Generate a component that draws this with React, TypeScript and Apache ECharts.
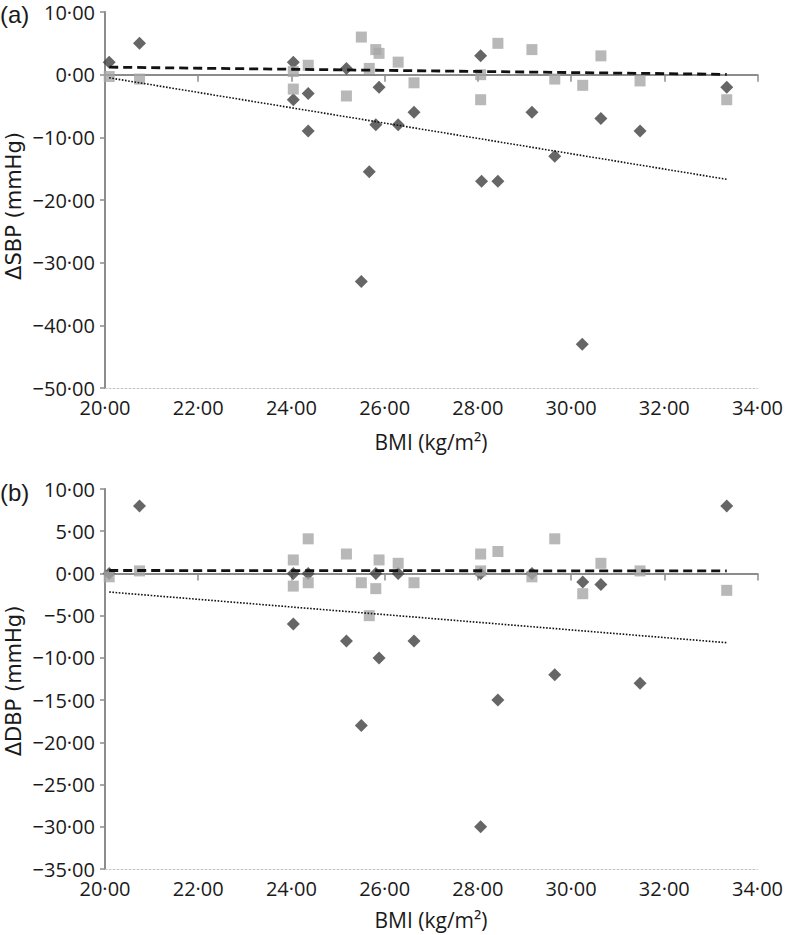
import React, { useEffect, useRef } from "react";
import * as echarts from "echarts";

// Panel (a): ΔSBP vs BMI
const sbpDiamondX = [20.09, 20.74, 24.04, 24.04, 24.36, 24.36, 25.18, 25.5, 25.67, 25.81, 25.88, 26.29, 26.63, 28.06, 28.08, 28.43, 29.16, 29.65, 30.24, 30.64, 31.48, 33.34];
const sbpDiamondY = [2, 5, 2, -4, -3, -9, 1, -33, -15.5, -8, -2, -8, -6, 3, -17, -17, -6, -13, -43, -7, -9, -2];
const sbpSquareX = [20.09, 20.74, 24.04, 24.04, 24.36, 25.18, 25.5, 25.67, 25.81, 25.88, 26.29, 26.63, 28.06, 28.06, 28.43, 29.16, 29.65, 30.25, 30.64, 31.48, 33.34];
const sbpSquareY = [-0.3, -0.7, 0.5, -2.3, 1.5, -3.4, 6, 1, 4, 3.4, 2, -1.3, 0, -4, 5, 4, -0.7, -1.7, 3, -1, -4];

// Panel (b): ΔDBP vs BMI
const dbpDiamondX = [20.09, 20.74, 24.04, 24.04, 24.36, 25.18, 25.5, 25.81, 25.88, 26.29, 26.63, 28.06, 28.06, 28.43, 29.16, 29.65, 30.25, 30.64, 31.48, 33.34];
const dbpDiamondY = [0, 8, 0, -6, 0, -8, -18, 0, -10, 0, -8, 0, -30, -15, 0, -12, -1, -1.3, -13, 8];
const dbpSquareX = [20.09, 20.74, 24.04, 24.04, 24.36, 24.36, 25.18, 25.5, 25.67, 25.81, 25.88, 26.29, 26.63, 28.06, 28.06, 28.43, 29.16, 29.65, 30.25, 30.64, 31.48, 33.34];
const dbpSquareY = [-0.4, 0.3, 1.6, -1.5, 4.1, -1.1, 2.3, -1.1, -5, -1.8, 1.6, 1.2, -1.1, 2.3, 0.3, 2.6, -0.4, 4.1, -2.4, 1.2, 0.3, -2];

// Trend lines (end points)
const trendX = [20.09, 33.34];
const sbpDashedY = [1.2, 0.05];
const sbpDottedY = [-0.5, -16.7];
const dbpDashedY = [0.35, 0.3];
const dbpDottedY = [-2.2, -8.2];

const xMin = 20, xMax = 34, xStep = 2;
const sbpMin = -50, sbpMax = 10, sbpStep = 10;
const dbpMin = -35, dbpMax = 10, dbpStep = 5;

const fmt = (v: number) => (v < 0 ? "\u2212" : "") + Math.abs(v).toFixed(2).replace(".", "\u00B7");
const pairs = (xs: number[], ys: number[]) => xs.map((x, i) => [x, ys[i]]);

const AXIS_GRAY = "#8c8c8c";
const TXT = "#1a1a1a";
const NUM_FONT = "Open Sans";

export default function App() {
  const ref = useRef<HTMLDivElement>(null);
  useEffect(() => {
    if (!ref.current) return;
    const chart = echarts.init(ref.current, undefined, { renderer: "svg" });

    const labelX = { formatter: fmt, fontFamily: NUM_FONT, fontSize: 20, color: TXT, margin: 9 };
    const labelY = { formatter: fmt, fontFamily: NUM_FONT, fontSize: 20, color: TXT, margin: 10, lineHeight: 18 };

    const bottomX = (g: number) => ({
      gridIndex: g, type: "value", min: xMin, max: xMax, interval: xStep, position: "bottom",
      axisLine: { show: true, onZero: false, lineStyle: { color: "#c4c4c4", width: 1, type: [2, 2] } },
      axisTick: { show: false }, splitLine: { show: false }, axisLabel: labelX,
    });
    const zeroX = (g: number) => ({
      gridIndex: g, type: "value", min: xMin, max: xMax, interval: xStep, position: "bottom",
      axisLine: { show: true, onZero: true, lineStyle: { color: AXIS_GRAY, width: 2 } },
      axisTick: { show: true, length: 7, lineStyle: { color: AXIS_GRAY, width: 1.5 } },
      axisLabel: { show: false }, splitLine: { show: false },
    });
    const yAx = (g: number, min: number, max: number, step: number) => ({
      gridIndex: g, type: "value", min, max, interval: step, position: "left",
      axisLine: { show: true, onZero: false, lineStyle: { color: AXIS_GRAY, width: 2 } },
      axisTick: { show: true, length: 5, lineStyle: { color: AXIS_GRAY, width: 1.5 } },
      splitLine: { show: false }, axisLabel: labelY,
    });

    const diamond = (xi: number, yi: number, data: number[][]) => ({
      type: "scatter", xAxisIndex: xi, yAxisIndex: yi, data, symbol: "diamond", symbolSize: 13,
      itemStyle: { color: "#404040" },
    });
    const square = (xi: number, yi: number, data: number[][]) => ({
      type: "scatter", xAxisIndex: xi, yAxisIndex: yi, data, symbol: "rect", symbolSize: 11,
      itemStyle: { color: "#a6a6a6" },
    });
    const dashed = (xi: number, yi: number, ys: number[]) => ({
      type: "line", xAxisIndex: xi, yAxisIndex: yi, data: pairs(trendX, ys), symbol: "none",
      lineStyle: { color: "#111", width: 2.8, type: [9, 5] },
    });
    const dotted = (xi: number, yi: number, ys: number[]) => ({
      type: "line", xAxisIndex: xi, yAxisIndex: yi, data: pairs(trendX, ys), symbol: "none",
      lineStyle: { color: "#111", width: 1.6, type: [1.6, 1.6] },
    });

    const nameFont = "DejaVu Sans";
    chart.setOption({
      animation: false,
      backgroundColor: "#fff",
      grid: [
        { left: 105, right: 28, top: 12, height: 376 },
        { left: 105, right: 28, top: 489, height: 380 },
      ],
      xAxis: [bottomX(0), zeroX(0), bottomX(1), zeroX(1)],
      yAxis: [yAx(0, sbpMin, sbpMax, sbpStep), yAx(1, dbpMin, dbpMax, dbpStep)],
      series: [
        diamond(0, 0, pairs(sbpDiamondX, sbpDiamondY)),
        square(0, 0, pairs(sbpSquareX, sbpSquareY)),
        dashed(0, 0, sbpDashedY),
        dotted(0, 0, sbpDottedY),
        diamond(2, 1, pairs(dbpDiamondX, dbpDiamondY)),
        square(2, 1, pairs(dbpSquareX, dbpSquareY)),
        dashed(2, 1, dbpDashedY),
        dotted(2, 1, dbpDottedY),
      ],
      graphic: [
        { type: "text", x: 0, y: 14, style: { text: "(a)", fontFamily: "Liberation Sans", fontSize: 24, fill: TXT, verticalAlign: "middle" } },
        { type: "text", x: 0, y: 492, style: { text: "(b)", fontFamily: "Liberation Sans", fontSize: 24, fill: TXT, verticalAlign: "middle" } },
        { type: "text", x: 14, y: 206, rotation: Math.PI / 2, style: { text: "ΔSBP (mmHg)", fontFamily: nameFont, fontSize: 21, fill: TXT, align: "center", verticalAlign: "middle" } },
        { type: "text", x: 14, y: 681, rotation: Math.PI / 2, style: { text: "ΔDBP (mmHg)", fontFamily: nameFont, fontSize: 21, fill: TXT, align: "center", verticalAlign: "middle" } },
        { type: "text", x: 431, y: 442, style: { text: "BMI (kg/m²)", fontFamily: NUM_FONT, fontSize: 21, fill: TXT, align: "center", verticalAlign: "middle" } },
        { type: "text", x: 431, y: 920, style: { text: "BMI (kg/m²)", fontFamily: NUM_FONT, fontSize: 21, fill: TXT, align: "center", verticalAlign: "middle" } },
      ],
    });
    return () => chart.dispose();
  }, []);
  return <div ref={ref} style={{ position: "absolute", left: 0, top: 0, width: 786, height: 935 }} />;
}
